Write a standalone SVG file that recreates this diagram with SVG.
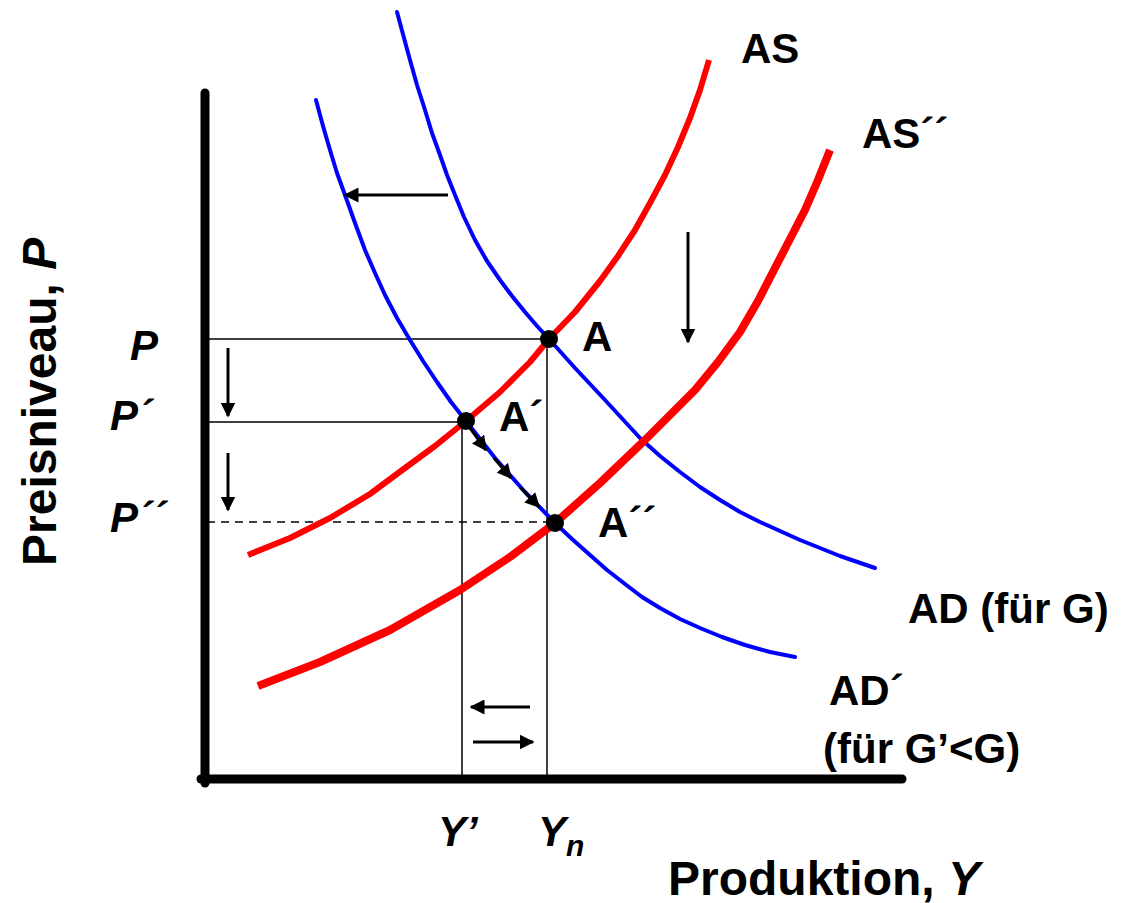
<svg xmlns="http://www.w3.org/2000/svg" width="1131" height="903" viewBox="0 0 1131 903">
<style>
.lbl{font-family:"Liberation Sans",Arial,sans-serif;font-weight:bold;font-size:42px;fill:#000}
.ax{font-family:"Liberation Sans",Arial,sans-serif;font-weight:bold;font-size:48px;fill:#000}
.it{font-style:italic}
.blue{fill:none;stroke:#0000ff;stroke-width:4;stroke-linejoin:round;stroke-linecap:round}
.red{fill:none;stroke:#ff0000;stroke-linejoin:round}
.thin{stroke:#000;stroke-width:1.5;fill:none}
.arr{stroke:#000;stroke-width:3;fill:none;marker-end:url(#ah)}
</style>
<defs>
<marker id="ah" viewBox="0 0 10 10" refX="9" refY="5" markerWidth="5" markerHeight="5" markerUnits="strokeWidth" orient="auto">
<path d="M0,0 L10,5 L0,10 Z" fill="#000"/>
</marker>
</defs>
<rect width="1131" height="903" fill="#fff"/>
<g id="guides">
<line class="thin" x1="207" y1="339" x2="549" y2="339"/>
<line class="thin" x1="207" y1="422" x2="466" y2="422"/>
<line class="thin" x1="207" y1="522" x2="555" y2="522" stroke-dasharray="8,6"/>
<line class="thin" x1="462" y1="422" x2="462" y2="779"/>
<line class="thin" x1="547" y1="339" x2="547" y2="779"/>
</g>
<g id="axes">
<line x1="205" y1="93" x2="205" y2="783" stroke="#000" stroke-width="9" stroke-linecap="round"/>
<line x1="201" y1="779" x2="902" y2="779" stroke="#000" stroke-width="9" stroke-linecap="round"/>
</g>
<g id="AD">
<polyline class="blue" points="397,12 404,38 410,60 417,85 425,110 432,133 440,155 447,175 455,195 464,217 475,240 487,261 500,280 512,296 525,312 537,326 549,339 575,368 605,400 640,438 660,456 680,472 700,487 720,500 740,512 760,522 800,540 840,556 875,568"/>
</g>
<g id="AD2">
<polyline class="blue" points="316,100 323,126 330,150 337,173 345,195 355,223 365,250 375,273 385,295 397,318 410,340 423,361 437,382 451,402 466,421 495,458 525,492 555,523 572,539 590,555 607,570 625,584 642,597 660,608 680,619 700,628 722,637 745,645 770,652 795,657"/>
</g>
<g id="AS">
<polyline class="red" stroke-width="6" points="248,555 290,538 330,518 370,494 405,468 435,446 466,421 500,392 530,362 549,339 575,312 600,281 618,256 635,230 650,203 665,175 678,147 690,118 700,90 709,60"/>
</g>
<g id="AS2">
<polyline class="red" stroke-width="8" points="258,686 320,662 390,630 460,590 510,557 555,523 600,483 645,440 695,390 718,362 740,332 758,301 775,268 790,239 805,210 818,180 830,150"/>
</g>
<g id="connectors">
<line class="arr" x1="448" y1="195" x2="345" y2="195"/>
<line class="arr" x1="688" y1="232" x2="688" y2="342"/>
<line class="arr" x1="228" y1="348" x2="228" y2="416"/>
<line class="arr" x1="228" y1="453" x2="228" y2="510"/>
<line class="arr" x1="530" y1="707" x2="471" y2="707"/>
<line class="arr" x1="473" y1="742" x2="533" y2="742"/>
<line class="arr" x1="470" y1="428" x2="486" y2="450"/>
<line class="arr" x1="494" y1="458" x2="511" y2="478"/>
<line class="arr" x1="520" y1="487" x2="539" y2="507"/>
</g>
<g id="pointA"><circle cx="549" cy="339" r="9" fill="#000"/><text class="lbl" x="582" y="351">A</text></g>
<g id="pointA1"><circle cx="466" cy="421" r="9" fill="#000"/><text class="lbl" x="499" y="431">A´</text></g>
<g id="pointA2"><circle cx="555" cy="523" r="9" fill="#000"/><text class="lbl" x="598" y="537">A´´</text></g>
<g id="labels">
<text class="lbl" x="741" y="63">AS</text>
<text class="lbl" x="862" y="148">AS´´</text>
<text class="lbl" x="908" y="623">AD (für G)</text>
<text class="lbl" x="829" y="705">AD´</text>
<text class="lbl" x="823" y="763">(für G’&lt;G)</text>
<text class="lbl it" x="130" y="360">P</text>
<text class="lbl it" x="110" y="430">P´</text>
<text class="lbl it" x="110" y="532">P´´</text>
<text class="lbl it" x="438" y="846">Y’</text>
<text class="lbl it" x="538" y="846">Y<tspan font-size="30" dy="10">n</tspan></text>
<text class="ax" x="668" y="895">Produktion, <tspan class="it">Y</tspan></text>
<text class="ax" transform="translate(56,566) rotate(-90)">Preisniveau, <tspan class="it">P</tspan></text>
</g>
</svg>
